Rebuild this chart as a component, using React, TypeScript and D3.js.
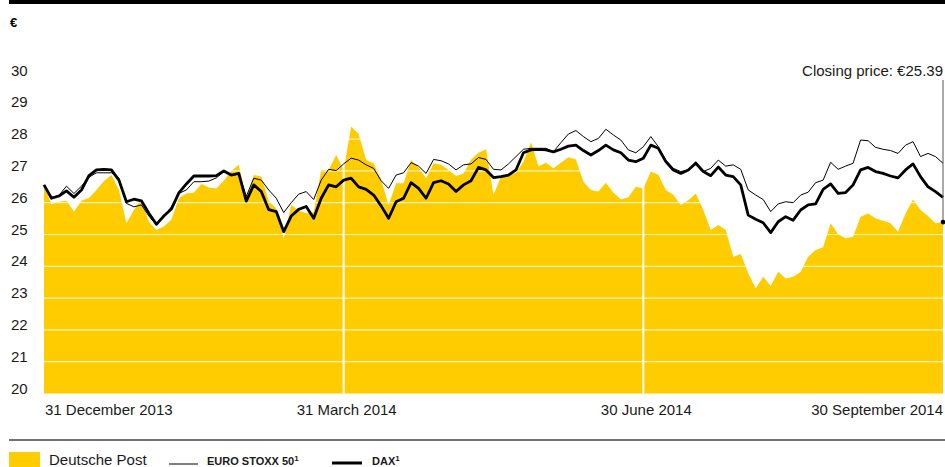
import React from "react";
import * as d3 from "d3";

// Weekly-ish samples, 31 Dec 2013 .. 30 Sep 2014 (40 samples per quarter)
const deutschePost: number[] = [
  26.53, 25.95, 26.03, 26.06, 25.72, 26.06, 26.15, 26.40, 26.68, 26.87,
  26.40, 25.35, 25.77, 26.11, 25.40, 25.14, 25.25, 25.46, 26.14, 26.29,
  26.31, 26.59, 26.48, 26.45, 26.69, 27.00, 27.19, 26.10, 26.87, 26.82,
  26.05, 25.82, 24.88, 25.93, 25.75, 25.67, 25.70, 27.03, 27.03, 27.50,
  27.03, 28.40, 28.16, 27.34, 27.24, 26.71, 25.93, 26.61, 26.61, 27.34,
  27.11, 26.77, 27.24, 27.19, 27.03, 26.84, 26.92, 27.36, 27.57, 27.68,
  26.24, 26.82, 26.87, 26.94, 27.29, 27.90, 27.15, 27.26, 27.08, 27.26,
  27.43, 27.36, 26.66, 26.40, 26.35, 26.63, 26.32, 26.10, 26.17, 26.50,
  26.45, 26.98, 26.88, 26.40, 26.25, 25.93, 26.08, 26.29, 25.77, 25.14,
  25.30, 25.14, 24.30, 24.39, 23.78, 23.31, 23.67, 23.38, 23.83, 23.62,
  23.67, 23.83, 24.30, 24.51, 24.60, 25.35, 25.01, 24.88, 24.93, 25.56,
  25.66, 25.51, 25.43, 25.35, 25.09, 25.66, 26.10, 25.77, 25.58, 25.35,
  25.39,
];

const dax: number[] = [
  26.56, 26.14, 26.21, 26.37, 26.17, 26.40, 26.85, 27.03, 27.05, 27.03,
  26.71, 26.03, 26.11, 26.06, 25.67, 25.32, 25.58, 25.80, 26.31, 26.59,
  26.84, 26.84, 26.84, 26.85, 27.00, 26.87, 26.92, 26.05, 26.56, 26.35,
  25.78, 25.72, 25.09, 25.58, 25.79, 25.88, 25.51, 26.14, 26.56, 26.50,
  26.71, 26.77, 26.50, 26.42, 26.24, 25.90, 25.51, 26.03, 26.14, 26.63,
  26.45, 26.14, 26.63, 26.69, 26.59, 26.35, 26.56, 26.69, 27.11, 27.03,
  26.79, 26.82, 26.87, 27.03, 27.57, 27.66, 27.68, 27.66, 27.60, 27.68,
  27.78, 27.81, 27.64, 27.50, 27.64, 27.81, 27.66, 27.57, 27.34, 27.29,
  27.40, 27.81, 27.71, 27.29, 27.03, 26.92, 27.03, 27.24, 26.98, 26.85,
  27.12, 26.87, 26.82, 26.56, 25.61, 25.48, 25.37, 25.06, 25.40, 25.56,
  25.45, 25.77, 25.93, 25.96, 26.42, 26.59, 26.29, 26.32, 26.56, 27.03,
  27.11, 26.98, 26.92, 26.84, 26.78, 27.03, 27.22, 26.82, 26.50, 26.35,
  26.17,
];

const euroStoxx: number[] = [
  26.56, 26.17, 26.23, 26.52, 26.29, 26.52, 26.80, 26.94, 26.94, 26.94,
  26.77, 25.98, 25.87, 25.93, 25.58, 25.30, 25.56, 25.87, 26.29, 26.40,
  26.66, 26.66, 26.68, 26.78, 26.97, 26.87, 26.92, 26.20, 26.77, 26.71,
  26.40, 26.14, 25.69, 26.00, 26.27, 26.35, 26.10, 26.71, 27.05, 27.01,
  27.22, 27.40, 27.34, 27.19, 27.08, 26.69, 26.45, 26.87, 26.94, 27.26,
  27.15, 26.92, 27.36, 27.32, 27.22, 27.03, 27.19, 27.22, 27.42, 27.36,
  27.05, 27.03, 27.22, 27.45, 27.68, 27.71, 27.71, 27.71, 27.60, 27.89,
  28.16, 28.27, 28.08, 27.92, 28.02, 28.31, 28.13, 27.97, 27.66, 27.57,
  27.76, 28.08, 27.76, 27.34, 27.08, 26.98, 27.03, 27.29, 26.98, 27.08,
  27.34, 27.15, 27.19, 27.05, 26.40, 26.24, 26.10, 25.72, 25.96, 26.03,
  26.00, 26.24, 26.33, 26.63, 26.71, 27.27, 27.05, 27.15, 27.24, 27.97,
  27.95, 27.74, 27.68, 27.64, 27.55, 27.81, 27.92, 27.45, 27.55, 27.45,
  27.24,
];

const yTicks: number[] = [20, 21, 22, 23, 24, 25, 26, 27, 28, 29, 30];
const quarterLabels: string[] = ["31 December 2013", "31 March 2014", "30 June 2014", "30 September 2014"];
const quarterIndex: number[] = [0, 40, 80, 120];
const closingLabel = "Closing price: €25.39";

const FONT = "'Liberation Sans', Arial, sans-serif";
const YELLOW = "#FFCC00";

export default function App() {
  const W = 945;
  const H = 467;
  const x = d3.scaleLinear().domain([0, deutschePost.length - 1]).range([44, 943]);
  const y = d3.scaleLinear().domain([20, 30]).range([393.5, 75.5]);

  const area = d3
    .area<number>()
    .x((_, i) => x(i))
    .y0(y(20))
    .y1((d) => y(d));
  const line = d3
    .line<number>()
    .x((_, i) => x(i))
    .y((d) => y(d));

  const last = deutschePost.length - 1;
  const areaPath = area(deutschePost) || "";

  return (
    <svg
      width={W}
      height={H}
      style={{ position: "absolute", left: 0, top: 0, background: "#fff" }}
      fontFamily={FONT}
    >
      <defs>
        <clipPath id="areaClip">
          <path d={areaPath} />
        </clipPath>
      </defs>
      {/* top rule */}
      <rect x={9} y={0} width={W - 9} height={4} fill="#000" />
      <text x={10} y={27} fontSize={13} fontWeight="bold" fill="#000">€</text>

      {/* y tick labels */}
      {yTicks.map((t) => (
        <text key={t} x={11} y={y(t)} fontSize={15} fill="#1a1a1a">
          {t}
        </text>
      ))}

      {/* area */}
      <path d={areaPath} fill={YELLOW} />
      <g clipPath="url(#areaClip)">
        {yTicks.slice(1).map((t) => (
          <line key={t} x1={44} x2={943} y1={y(t)} y2={y(t)} stroke="#fff" strokeOpacity={0.75} strokeWidth={1.2} />
        ))}
        {quarterIndex.slice(1, 3).map((qi) => (
          <line key={qi} x1={x(qi)} x2={x(qi)} y1={y(20)} y2={y(30)} stroke="#fff" strokeWidth={2} />
        ))}
      </g>

      {/* lines */}
      <path d={line(euroStoxx) || ""} fill="none" stroke="#000" strokeWidth={1} strokeLinejoin="round" />
      <path d={line(dax) || ""} fill="none" stroke="#000" strokeWidth={2.8} strokeLinejoin="round" />

      {/* closing price annotation */}
      <line x1={x(last)} x2={x(last)} y1={80} y2={y(deutschePost[last])} stroke="#555" strokeWidth={1} />
      <circle cx={x(last)} cy={y(deutschePost[last])} r={2.3} fill="#000" />
      <text x={943} y={76} fontSize={15} textAnchor="end" fill="#1a1a1a">
        {closingLabel}
      </text>

      {/* x labels */}
      {quarterLabels.map((lab, i) => (
        <text
          key={lab}
          x={i === 0 ? 45 : i === 3 ? 943 : x(quarterIndex[i]) + 3}
          y={415}
          fontSize={15}
          textAnchor={i === 0 ? "start" : i === 3 ? "end" : "middle"}
          fill="#1a1a1a"
        >
          {lab}
        </text>
      ))}

      {/* legend */}
      <line x1={9} x2={W} y1={440} y2={440} stroke="#444" strokeWidth={1.5} />
      <rect x={9} y={452} width={31} height={15} fill={YELLOW} />
      <text x={49} y={465} fontSize={15} fill="#1a1a1a">Deutsche Post</text>
      <line x1={169} x2={198} y1={464} y2={464} stroke="#000" strokeWidth={1} />
      <text x={207} y={465} fontSize={11} fontWeight="bold" fill="#1a1a1a">
        EURO STOXX 50<tspan fontSize={8} dy={-4}>1</tspan>
      </text>
      <line x1={332} x2={362} y1={463} y2={463} stroke="#000" strokeWidth={3} />
      <text x={372} y={465} fontSize={11} fontWeight="bold" fill="#1a1a1a">
        DAX<tspan fontSize={8} dy={-4}>1</tspan>
      </text>
    </svg>
  );
}
